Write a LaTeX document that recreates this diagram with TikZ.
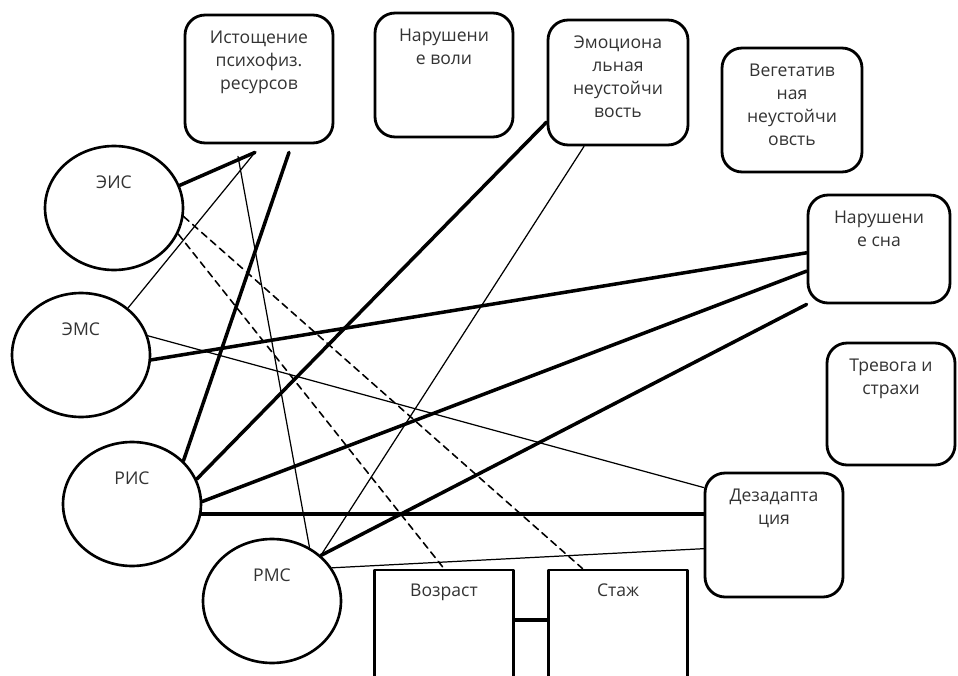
\documentclass[tikz,border=0pt]{standalone}
\usepackage{fontspec}
\setmainfont{Open Sans}
\usetikzlibrary{calc,shapes.geometric}

\begin{document}
\begin{tikzpicture}[x=0.02cm,y=-0.02cm,line join=round,line cap=round,
	krug/.style={draw,ellipse,line width=1.5pt,minimum width=2.76cm,minimum height=2.48cm,inner sep=0pt,
		label={[tekst,yshift=0.52cm]center:#1}},
	blok/.style={draw,rectangle,rounded corners=0.4cm,line width=1.6pt,inner sep=0pt,
		label={[tekst,anchor=north,yshift=-0.34cm]north:#1}},
	kvadrat/.style={draw,rectangle,line width=1.6pt,inner sep=0pt,minimum width=2.78cm,minimum height=2.4cm,
		label={[tekst,anchor=north,yshift=-0.3cm]north:#1}},
	tekst/.style={font=\fontsize{10}{13}\selectfont,text=black!80,align=center,inner sep=0pt},
	zhir/.style={line width=2pt},
	ton/.style={line width=0.7pt},
	shtrih/.style={line width=0.9pt,dash pattern=on 4pt off 2.8pt}]
	\useasboundingbox[fill=white] (0,0) rectangle (958,676);
	\clip (0,0) rectangle (958,676);
	% Узлы
	\node[krug=ЭИС] (eis) at (114,208) {};
	\node[krug=ЭМС] (ems) at (81,355) {};
	\node[krug=РИС] (ris) at (132,504) {};
	\node[krug=РМС] (rms) at (272,601) {};
	\node[blok={Истощение\\психофиз.\\ресурсов},minimum width=2.96cm,minimum height=2.56cm] (ist) at (259,79) {};
	\node[blok={Нарушени\\е воли},minimum width=2.76cm,minimum height=2.48cm] (vol) at (444,75) {};
	\node[blok={Эмоциона\\льная\\неустойчи\\вость},minimum width=2.8cm,minimum height=2.5cm] (emo) at (618,82.5) {};
	\node[blok={Вегетатив\\ная\\неустойчи\\овсть},minimum width=2.8cm,minimum height=2.48cm] (veg) at (792,110) {};
	\node[blok={Нарушени\\е сна},minimum width=2.84cm,minimum height=2.16cm] (son) at (879,249) {};
	\node[blok={Тревога и\\страхи},minimum width=2.56cm,minimum height=2.44cm] (trev) at (891,404) {};
	\node[blok={Дезадапта\\ция},minimum width=2.76cm,minimum height=2.48cm] (dez) at (774,535) {};
	\node[kvadrat=Возраст] (voz) at (444,630) {};
	\node[kvadrat=Стаж] (stazh) at (618,630) {};
	\coordinate (istA) at ($(ist.south)+(-4,8)$);
	\coordinate (istB) at ($(ist.south)+(-21,12)$);
	\coordinate (istC) at ($(ist.south)+(30,8)$);
	% Связи
	\draw[zhir] (eis.19) -- (istA);
	\draw[ton] (ems.45) -- (istA);
	\draw[zhir] (ris.40) -- (istC);
	\draw[ton] (rms.55) -- (istB);
	\draw[shtrih] (eis.353) -- ($(stazh.north west)!0.25!(stazh.north east)$);
	\draw[shtrih] (eis.338) -- (voz.north);
	\draw[zhir] (ems.356) -- (son.183);
	\draw[ton] (ems.16) -- (dez.146);
	\draw[zhir] (ris.21) -- (emo.209);
	\draw[zhir] (ris.2) -- (son.197);
	\draw[zhir] (ris.352) -- (ris.352 -| dez.west);
	\draw[zhir] (rms.43) -- (son.south west);
	\draw[ton] (rms.43) -- (emo.242);
	\draw[ton] (rms.29) -- (dez.191);
	\draw[zhir] ($(voz.east)+(0,-10)$) -- ($(stazh.west)+(0,-10)$);
\end{tikzpicture}
\end{document}
